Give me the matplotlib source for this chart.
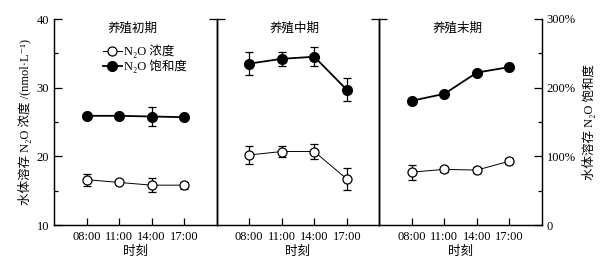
import matplotlib
matplotlib.use("Agg")
import matplotlib.pyplot as plt
from matplotlib.ticker import MultipleLocator, FixedLocator, FuncFormatter
from matplotlib.lines import Line2D

plt.rcParams['font.family'] = ['Liberation Serif', 'Noto Sans CJK SC', 'DejaVu Sans']

times = ["08:00", "11:00", "14:00", "17:00"]
stages = ["养殖初期", "养殖中期", "养殖末期"]

# N2O concentration (nmol/L)
conc = [[16.6, 16.2, 15.8, 15.8],
        [20.2, 20.7, 20.7, 16.7],
        [17.7, 18.1, 18.0, 19.3]]
conc_err = [[0.85, 0.3, 1.0, 0.5],
            [1.35, 0.85, 1.15, 1.6],
            [1.1, 0.4, 0.5, 0.4]]
# N2O saturation (%)
sat = [[159, 159, 158, 157],
       [235, 242, 245, 197],
       [181, 191, 222, 230]]
sat_err = [[3, 2, 13.5, 2],
           [17, 10, 14, 17],
           [2, 2, 2, 2]]

fig = plt.figure(figsize=(6.16, 2.61), dpi=100)
L, R, B, T = 54/616, 542/616, 1-225/261, 1-19/261
w = (R - L) / 3
fs = 9
x = list(range(len(times)))

for i in range(3):
    ax = fig.add_axes([L + i*w, B, w, T - B])
    ax2 = ax.twinx()
    ax.set_xlim(-1, 4)
    ax.set_ylim(10, 40)
    ax2.set_ylim(0, 300)
    for a in (ax, ax2):
        a.spines['top'].set_visible(False)
        a.patch.set_visible(False)
    ax.errorbar(x, conc[i], yerr=conc_err[i], fmt='o', ls='-', color='black', mfc='white',
                mec='black', ms=6.5, lw=0.7, elinewidth=0.9, capsize=3, capthick=0.9,
                mew=0.9, zorder=3)
    ax2.errorbar(x, sat[i], yerr=sat_err[i], fmt='o', ls='-', color='black', mfc='black',
                 mec='black', ms=7, lw=1.3, elinewidth=0.9, capsize=3, capthick=0.9,
                 zorder=3)
    ax.set_xticks(x)
    ax.set_xticklabels(times, fontsize=fs)
    ax.tick_params(axis='x', direction='in', length=5, width=0.9, pad=4)
    ax.set_xlabel("时刻", fontsize=fs, labelpad=2)
    ax.text(1.4, 38.6, stages[i], ha='center', va='center', fontsize=fs)
    if i == 0:
        ax.yaxis.set_major_locator(MultipleLocator(10))
        ax.yaxis.set_minor_locator(MultipleLocator(5))
        ax.tick_params(axis='y', which='major', direction='in', length=6, width=0.9, labelsize=fs)
        ax.tick_params(axis='y', which='minor', direction='in', length=3, width=0.9)
        ax.set_ylabel("水体溶存 N₂O 浓度 /(nmol·L⁻¹)", fontsize=fs, labelpad=3)
        handles = [Line2D([], [], color='black', lw=0.7, marker='o', mfc='white', mec='black', ms=6.5, mew=0.9),
                   Line2D([], [], color='black', lw=1.3, marker='o', mfc='black', mec='black', ms=7)]
        ax.legend(handles, ["N₂O 浓度", "N₂O 饱和度"], loc='upper center', bbox_to_anchor=(0.56, 0.9),
                  frameon=False, fontsize=fs, handlelength=1.5, handletextpad=0.2,
                  labelspacing=0.1, borderaxespad=0)
    else:
        ax.yaxis.set_major_locator(FixedLocator([40]))
        ax.tick_params(axis='y', direction='in', length=6, width=0.9, labelleft=False)
    if i == 2:
        ax2.yaxis.set_major_locator(MultipleLocator(100))
        ax2.yaxis.set_minor_locator(MultipleLocator(50))
        ax2.yaxis.set_major_formatter(FuncFormatter(lambda v, p: "0" if v == 0 else f"{v:.0f}%"))
        ax2.tick_params(axis='y', which='major', direction='in', length=6, width=0.9, labelsize=fs)
        ax2.tick_params(axis='y', which='minor', direction='in', length=3, width=0.9)
        ax2.set_ylabel("水体溶存 N₂O 饱和度", fontsize=fs, rotation=90, labelpad=4)
    else:
        ax2.yaxis.set_major_locator(FixedLocator([300]))
        ax2.tick_params(axis='y', direction='in', length=6, width=0.9, labelright=False)
    for a in (ax, ax2):
        for s in a.spines.values():
            s.set_linewidth(0.9)

fig.savefig("out.png", dpi=100)
